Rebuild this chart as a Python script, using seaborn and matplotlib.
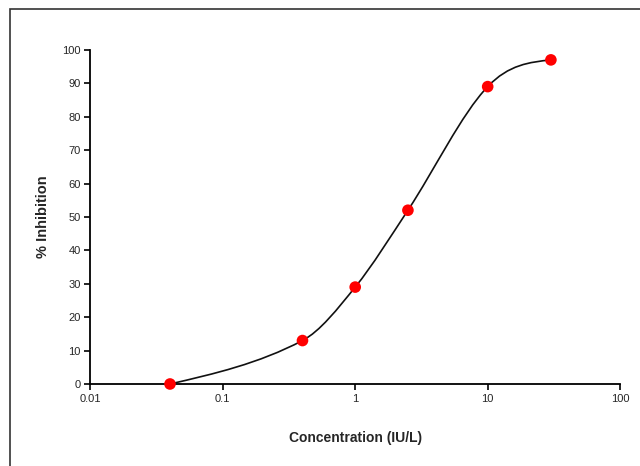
import numpy as np
import pandas as pd
import seaborn as sns
import matplotlib.pyplot as plt
from matplotlib.path import Path
from matplotlib.patches import PathPatch, Rectangle

concentration = [0.04, 0.4, 1.0, 2.5, 10.0, 30.0]
inhibition = [0.0, 13.0, 29.0, 52.0, 89.0, 97.0]
x_ticks = [0.01, 0.1, 1, 10, 100]
x_tick_labels = ["0.01", "0.1", "1", "10", "100"]
y_ticks = list(range(0, 101, 10))

df = pd.DataFrame({"conc": concentration, "inh": inhibition})

sns.set_style("ticks")
plt.rcParams["font.family"] = ["Liberation Sans", "DejaVu Sans"]

fig = plt.figure(figsize=(6.4, 4.66), dpi=100)
ax = fig.add_axes([0.141, 0.176, 0.828, 0.717])

# smoothed line through the points (cubic hermite in log-x space)
lx = np.log10(df["conc"].values)
ly = df["inh"].values
n = len(lx)
sec = np.diff(ly) / np.diff(lx)
m = np.zeros(n)
m[1:-1] = (ly[2:] - ly[:-2]) / (lx[2:] - lx[:-2])
m[0] = (3 * sec[0] - m[1]) / 2
m[-1] = (3 * sec[-1] - m[-2]) / 2
verts = [(lx[0], ly[0])]
codes = [Path.MOVETO]
for i in range(n - 1):
    d = (lx[i + 1] - lx[i]) / 3
    verts += [(lx[i] + d, ly[i] + m[i] * d),
              (lx[i + 1] - d, ly[i + 1] - m[i + 1] * d),
              (lx[i + 1], ly[i + 1])]
    codes += [Path.CURVE4] * 3
verts = [(10 ** vx, vy) for vx, vy in verts]
ax.add_patch(PathPatch(Path(verts, codes), facecolor="none",
                       edgecolor="#111111", lw=1.2, zorder=2))

sns.scatterplot(data=df, x="conc", y="inh", ax=ax, color="#ff0000",
                s=70, edgecolor="none", zorder=3, clip_on=False)

ax.set_xscale("log")
ax.set_xlim(0.01, 100)
ax.set_ylim(0, 100)
ax.set_xticks(x_ticks)
ax.set_xticklabels(x_tick_labels)
ax.xaxis.set_minor_locator(plt.NullLocator())
ax.set_yticks(y_ticks)
ax.tick_params(labelsize=8, length=4, width=1.2, color="black", pad=3)
ax.set_xlabel("Concentration (IU/L)", fontsize=10, fontweight="bold", labelpad=20)
ax.set_ylabel("% Inhibition", fontsize=10.5, fontweight="bold", labelpad=9)
for s in ["top", "right"]:
    ax.spines[s].set_visible(False)
for s in ["left", "bottom"]:
    ax.spines[s].set_color("black")
    ax.spines[s].set_linewidth(1.3)

# outer chart-area frame
fig.patches.append(Rectangle((10 / 640, -0.1), 1.0, 1.1 - 9 / 466,
                             transform=fig.transFigure, fill=False,
                             edgecolor="#333333", lw=1.2))

fig.savefig("out.png", dpi=100)
